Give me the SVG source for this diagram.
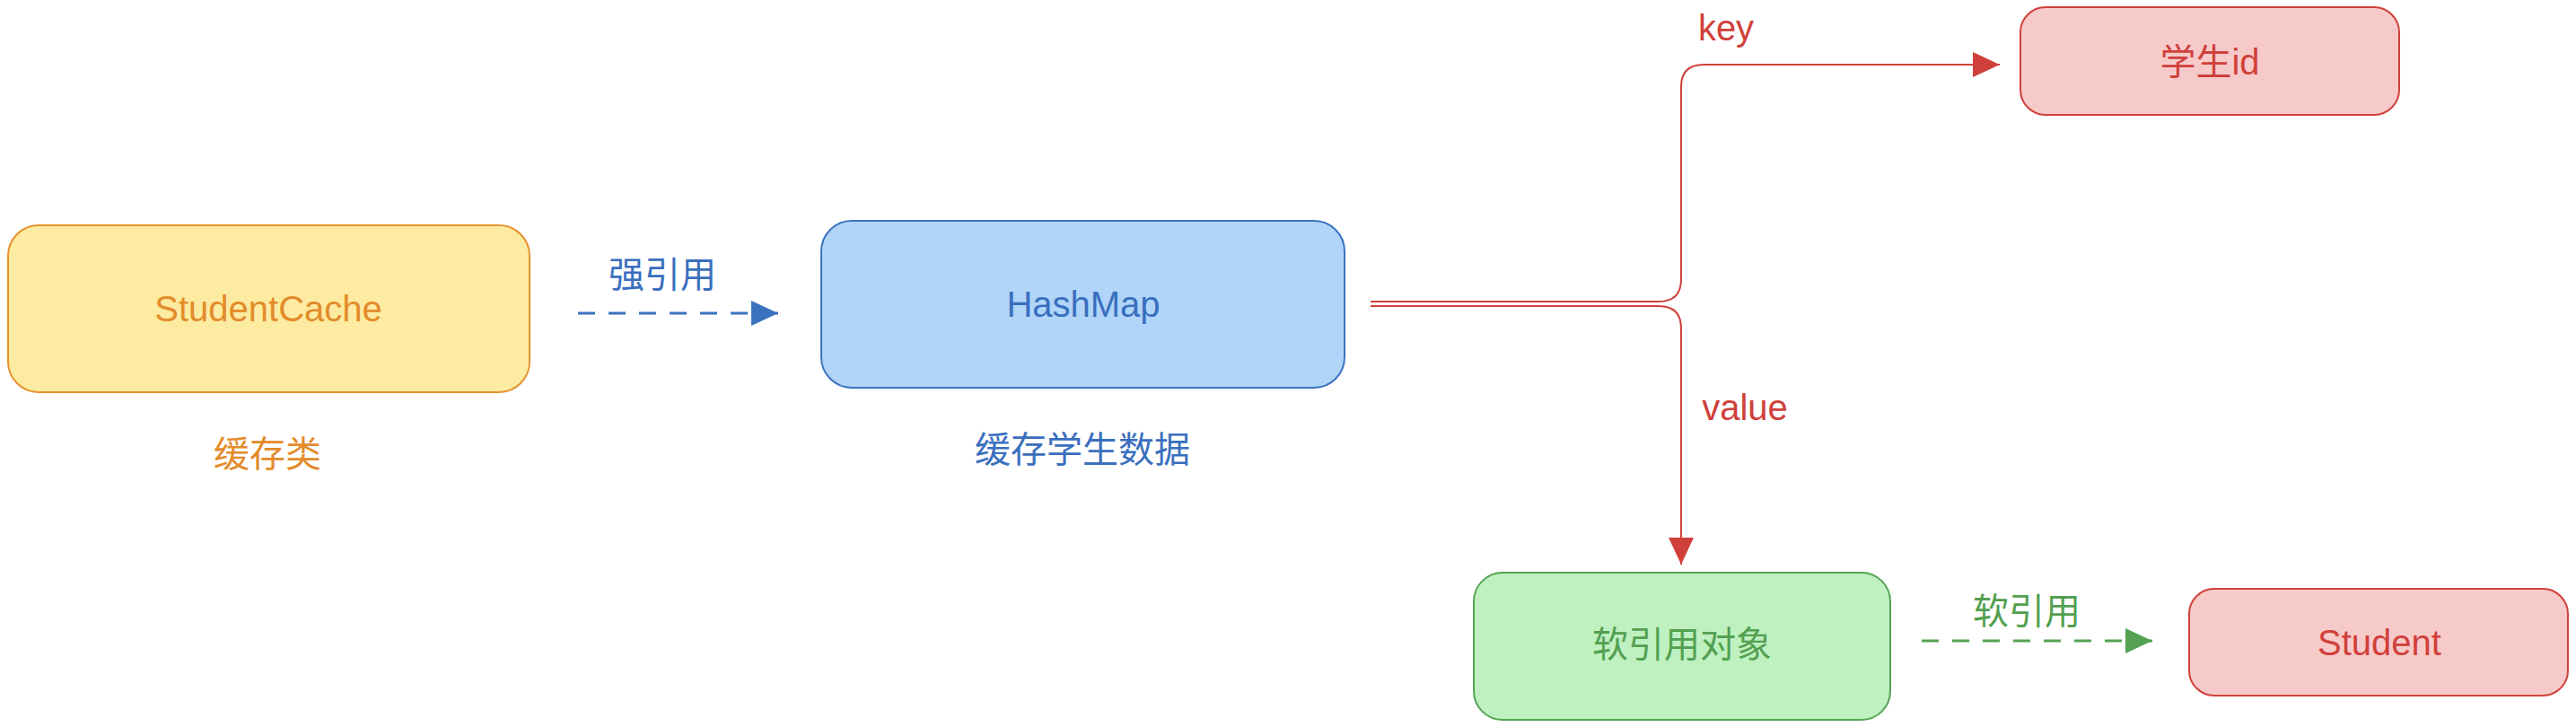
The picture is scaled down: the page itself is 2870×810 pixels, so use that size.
<svg xmlns="http://www.w3.org/2000/svg" width="2870" height="810" viewBox="0 0 2870 810">
<style>
text{font-family:"Liberation Sans","Noto Sans CJK SC",sans-serif;font-size:40px;text-anchor:middle}
.y rect{fill:#FCEBA0;stroke:#E6922E;stroke-width:2}
.b rect{fill:#B0D5F8;stroke:#3B72C0;stroke-width:2}
.r rect{fill:#F7CACA;stroke:#D0403A;stroke-width:2}
.g rect{fill:#BEF0C0;stroke:#55A352;stroke-width:2}
.ty{fill:#E38B2B}.tb{fill:#3A6FBE}.tr{fill:#D0403A}.tg{fill:#52A050}
</style>
<defs>
<marker id="ab" viewBox="0 0 30 28" markerWidth="30" markerHeight="28" refX="30" refY="14" orient="auto" markerUnits="userSpaceOnUse"><path d="M0,0 L30,14 L0,28 Z" fill="#3B72C0"/></marker>
<marker id="ar" viewBox="0 0 30 28" markerWidth="30" markerHeight="28" refX="30" refY="14" orient="auto" markerUnits="userSpaceOnUse"><path d="M0,0 L30,14 L0,28 Z" fill="#D0403A"/></marker>
<marker id="ag" viewBox="0 0 30 28" markerWidth="30" markerHeight="28" refX="30" refY="14" orient="auto" markerUnits="userSpaceOnUse"><path d="M0,0 L30,14 L0,28 Z" fill="#55A352"/></marker>
</defs>
<g id="connectors" fill="none">
<path d="M644 349 H867" stroke="#3B72C0" stroke-width="3" stroke-dasharray="19 15" marker-end="url(#ab)"/>
<path d="M1527 336 H1848 Q1873 336 1873 311 V97 Q1873 72 1898 72 H2228" stroke="#D0403A" stroke-width="2" marker-end="url(#ar)"/>
<path d="M1527 341 H1848 Q1873 341 1873 366 V629" stroke="#D0403A" stroke-width="2" marker-end="url(#ar)"/>
<path d="M2141 714 H2398" stroke="#55A352" stroke-width="3" stroke-dasharray="19 15" marker-end="url(#ag)"/>
<text x="738" y="320" class="tb">强引用</text>
<text x="1923" y="45" class="tr">key</text>
<text x="1944" y="468" class="tr">value</text>
<text x="2258" y="695" class="tg">软引用</text>
</g>
<g id="studentcache" class="y">
<rect x="9" y="251" width="581" height="186" rx="34" ry="34"/>
<text x="299" y="358" class="ty">StudentCache</text>
<text x="298" y="520" class="ty">缓存类</text>
</g>
<g id="hashmap" class="b">
<rect x="915" y="246" width="583" height="186" rx="34" ry="34"/>
<text x="1207" y="353" class="tb">HashMap</text>
<text x="1206" y="515" class="tb">缓存学生数据</text>
</g>
<g id="studentid" class="r">
<rect x="2251" y="8" width="422" height="120" rx="28" ry="28"/>
<text x="2462" y="83" class="tr">学生id</text>
</g>
<g id="softref" class="g">
<rect x="1642" y="638" width="464" height="164" rx="32" ry="32"/>
<text x="1874" y="732" class="tg">软引用对象</text>
</g>
<g id="student" class="r">
<rect x="2439" y="656" width="422" height="119" rx="28" ry="28"/>
<text x="2651" y="730" class="tr">Student</text>
</g>
</svg>
